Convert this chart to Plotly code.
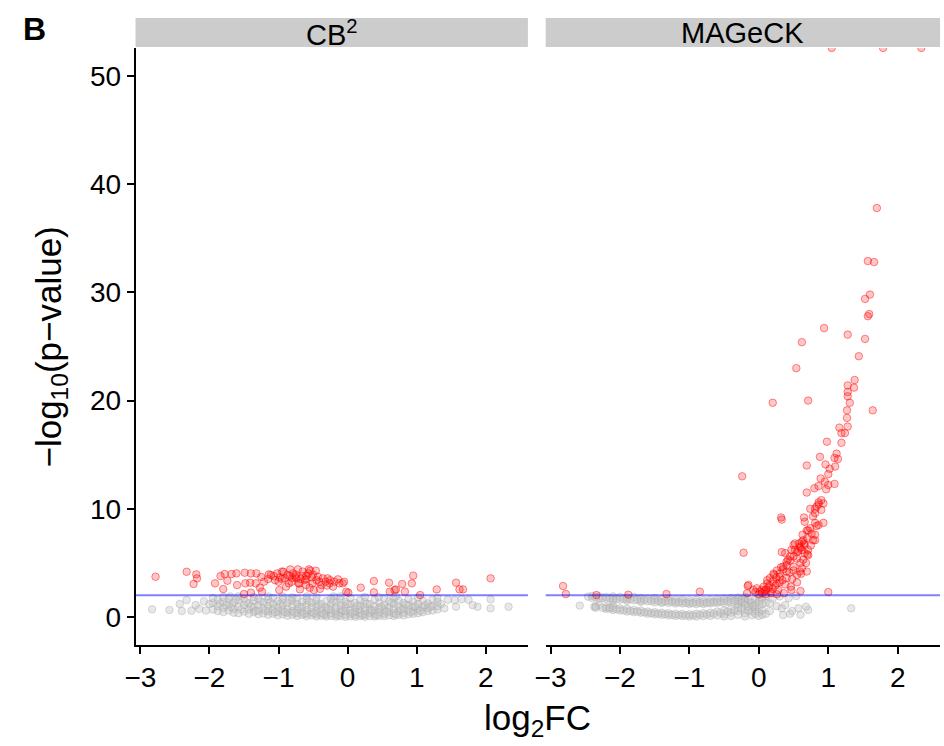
import plotly.graph_objects as go

# ---------------- data ----------------
panels = ["CB<sup>2</sup>", "MAGeCK"]
x_ticks = [-3, -2, -1, 0, 1, 2]
x_tick_labels = ["\u22123", "\u22122", "\u22121", "0", "1", "2"]
y_ticks = [0, 10, 20, 30, 40, 50]
threshold = 2.0

# CB2 significant (red) points: (log2FC, -log10 p)
cb2_sig = [
    (-2.78, 3.72), (-2.33, 4.18), (-2.19, 3.94), (-2.18, 3.57), (-2.23, 3.05), (-1.92, 3.11),
    (-1.84, 3.78), (-1.78, 3.97), (-1.74, 3.35), (-1.80, 2.58), (-1.68, 3.97), (-1.61, 4.03),
    (-1.60, 2.95), (-1.49, 4.09), (-1.48, 3.11), (-1.40, 4.03), (-1.32, 4.03), (-1.41, 3.17),
    (-1.50, 2.12), (-1.40, 2.25), (-1.33, 3.11), (-1.27, 2.71), (-1.21, 3.26), (-1.24, 2.34),
    (-1.14, 3.94), (-1.11, 3.88), (-1.07, 3.78), (-1.02, 4.03), (-0.98, 3.66), (-1.00, 3.26),
    (-0.99, 2.49), (-0.93, 4.18), (-0.91, 3.57), (-0.89, 2.80), (-0.83, 4.40), (-0.84, 3.78),
    (-0.81, 3.26), (-0.79, 4.03), (-0.76, 3.72), (-0.74, 3.57), (-0.72, 4.40), (-0.71, 3.11),
    (-0.69, 2.55), (-0.65, 3.78), (-0.62, 3.42), (-0.60, 2.95), (-0.57, 4.03), (-0.56, 4.40),
    (-0.54, 4.28), (-0.52, 3.66), (-0.51, 3.11), (-0.49, 2.49), (-0.46, 4.28), (-0.43, 3.72),
    (-0.41, 3.26), (-0.38, 2.95), (-0.36, 3.57), (-0.32, 3.26), (-0.29, 3.57), (-0.26, 3.11),
    (-0.21, 2.80), (-0.19, 3.26), (-0.14, 3.48), (-0.12, 3.11), (-0.07, 3.11), (-0.05, 3.26),
    (-0.02, 2.34), (0.01, 2.25), (0.19, 2.71), (0.38, 3.32), (0.38, 2.28), (0.60, 3.17),
    (0.61, 2.34), (0.68, 2.49), (0.70, 2.55), (0.79, 3.05), (0.83, 2.34), (0.93, 3.11),
    (0.95, 3.82), (1.05, 2.03), (1.29, 2.55), (1.57, 3.17), (1.62, 2.55), (1.67, 2.55),
    (2.07, 3.57),
    (-0.87, 3.90), (-0.80, 3.60), (-0.75, 3.90), (-0.68, 3.50), (-0.60, 3.80), (-0.65, 4.20),
    (-0.95, 3.50), (-1.05, 3.40), (-0.50, 3.90), (-0.45, 3.40), (-0.30, 2.90), (-0.25, 3.40),
    (-0.70, 3.10), (-0.85, 3.10), (-1.15, 3.50), (-1.25, 3.70), (-0.55, 2.70), (-0.40, 2.60),
    (-0.95, 4.20), (-0.60, 3.50),
]

# CB2 non-significant (grey) points
cb2_ns = [
    (-2.83, 0.71), (-2.58, 0.65), (-2.43, 1.20), (-2.40, 0.55), (-2.33, 1.57), (-2.26, 0.58),
    (-2.20, 1.10), (-2.15, 0.75), (-2.08, 1.45), (-2.05, 0.60), (2.33, 0.95), (2.07, 0.80),
    (2.07, 1.63), (1.88, 0.95), (1.81, 1.10), (1.57, 0.95), (1.55, 1.57), (1.45, 1.60),
    (1.40, 0.80), (1.35, 1.20), (1.65, 1.65), (1.75, 1.60), (1.30, 1.75),
    (-1.95, 0.70), (-1.95, 1.30), (-1.95, 1.75),
    (-1.88, 0.55), (-1.88, 1.00), (-1.88, 1.60),
    (-1.80, 0.45), (-1.80, 0.85), (-1.80, 1.40), (-1.80, 1.85),
    (-1.72, 0.60), (-1.72, 1.15), (-1.72, 1.70),
    (-1.65, 0.40), (-1.65, 0.75), (-1.65, 1.30),
    (-1.58, 0.35), (-1.58, 0.95), (-1.58, 1.55), (-1.58, 1.90),
    (-1.50, 0.50), (-1.50, 1.10), (-1.50, 1.70),
    (-1.43, 0.30), (-1.43, 0.70), (-1.43, 1.25),
    (-1.36, 0.45), (-1.36, 0.90), (-1.36, 1.50), (-1.36, 1.85),
    (-1.29, 0.25), (-1.29, 0.60), (-1.29, 1.10), (-1.29, 1.65),
    (-1.22, 0.35), (-1.22, 0.80), (-1.22, 1.35),
    (-1.15, 0.20), (-1.15, 0.55), (-1.15, 1.00), (-1.15, 1.60), (-1.15, 1.90),
    (-1.08, 0.30), (-1.08, 0.70), (-1.08, 1.20), (-1.08, 1.75),
    (-1.01, 0.15), (-1.01, 0.50), (-1.01, 0.90), (-1.01, 1.45),
    (-0.94, 0.25), (-0.94, 0.65), (-0.94, 1.10), (-0.94, 1.60), (-0.94, 1.90),
    (-0.87, 0.12), (-0.87, 0.40), (-0.87, 0.80), (-0.87, 1.30),
    (-0.80, 0.20), (-0.80, 0.55), (-0.80, 1.00), (-0.80, 1.50), (-0.80, 1.80),
    (-0.73, 0.10), (-0.73, 0.35), (-0.73, 0.75), (-0.73, 1.20), (-0.73, 1.70),
    (-0.66, 0.18), (-0.66, 0.50), (-0.66, 0.95), (-0.66, 1.40),
    (-0.59, 0.08), (-0.59, 0.30), (-0.59, 0.65), (-0.59, 1.10), (-0.59, 1.60), (-0.59, 1.90),
    (-0.52, 0.15), (-0.52, 0.45), (-0.52, 0.85), (-0.52, 1.30),
    (-0.45, 0.05), (-0.45, 0.25), (-0.45, 0.60), (-0.45, 1.00), (-0.45, 1.50), (-0.45, 1.80),
    (-0.38, 0.12), (-0.38, 0.40), (-0.38, 0.80), (-0.38, 1.20),
    (-0.31, 0.04), (-0.31, 0.20), (-0.31, 0.55), (-0.31, 0.95), (-0.31, 1.45),
    (-0.24, 0.10), (-0.24, 0.35), (-0.24, 0.70), (-0.24, 1.15), (-0.24, 1.70),
    (-0.17, 0.03), (-0.17, 0.25), (-0.17, 0.50), (-0.17, 0.90), (-0.17, 1.35),
    (-0.10, 0.08), (-0.10, 0.40), (-0.10, 0.75), (-0.10, 1.10), (-0.10, 1.60), (-0.10, 1.90),
    (-0.03, 0.02), (-0.03, 0.20), (-0.03, 0.55), (-0.03, 0.95), (-0.03, 1.40),
    (0.04, 0.06), (0.04, 0.30), (0.04, 0.65), (0.04, 1.20), (0.04, 1.75),
    (0.11, 0.02), (0.11, 0.18), (0.11, 0.50), (0.11, 0.85), (0.11, 1.30),
    (0.18, 0.08), (0.18, 0.35), (0.18, 0.70), (0.18, 1.05), (0.18, 1.55),
    (0.25, 0.03), (0.25, 0.22), (0.25, 0.55), (0.25, 0.90), (0.25, 1.40), (0.25, 1.85),
    (0.32, 0.10), (0.32, 0.40), (0.32, 0.75), (0.32, 1.20),
    (0.39, 0.05), (0.39, 0.28), (0.39, 0.60), (0.39, 1.00), (0.39, 1.60),
    (0.46, 0.12), (0.46, 0.45), (0.46, 0.85), (0.46, 1.30),
    (0.53, 0.08), (0.53, 0.30), (0.53, 0.70), (0.53, 1.10), (0.53, 1.75),
    (0.60, 0.15), (0.60, 0.50), (0.60, 0.90), (0.60, 1.45),
    (0.67, 0.10), (0.67, 0.35), (0.67, 0.75), (0.67, 1.20), (0.67, 1.70),
    (0.74, 0.20), (0.74, 0.55), (0.74, 1.00), (0.74, 1.50),
    (0.81, 0.15), (0.81, 0.40), (0.81, 0.80), (0.81, 1.30),
    (0.88, 0.25), (0.88, 0.65), (0.88, 1.10), (0.88, 1.65),
    (0.95, 0.30), (0.95, 0.55), (0.95, 0.95), (0.95, 1.40),
    (1.02, 0.35), (1.02, 0.75), (1.02, 1.20), (1.02, 1.80),
    (1.09, 0.45), (1.09, 0.90), (1.09, 1.50),
    (1.16, 0.55), (1.16, 0.80), (1.16, 1.25),
    (1.23, 0.60), (1.23, 1.05), (1.23, 1.60),
    (1.30, 0.70), (1.30, 1.00), (1.30, 1.40),
    (-1.76, 1.10), (-1.69, 0.90), (-1.62, 1.60), (-1.54, 0.70), (-1.47, 1.40), (-1.40, 1.00),
    (-1.33, 0.55), (-1.26, 1.45), (-1.19, 0.60), (-1.12, 1.35), (-1.05, 0.45), (-0.98, 1.20),
    (-0.91, 0.45), (-0.84, 1.60), (-0.77, 0.40), (-0.70, 0.95), (-0.63, 0.30), (-0.56, 1.45),
    (-0.49, 0.35), (-0.42, 1.10), (-0.35, 0.25), (-0.28, 0.75), (-0.21, 1.50), (-0.14, 0.15),
    (-0.07, 0.60), (0.00, 1.20), (0.07, 0.40), (0.14, 1.05), (0.21, 0.20), (0.28, 1.20),
    (0.35, 0.55), (0.42, 0.15), (0.49, 0.95), (0.56, 0.50), (0.63, 1.30), (0.70, 0.25),
    (0.77, 0.70), (0.84, 1.15), (0.91, 0.45), (0.98, 1.00), (1.05, 0.55), (1.12, 1.10),
    (1.19, 0.95), (-2.00, 1.20), (-1.85, 1.25), (-1.70, 1.90), (-0.20, 1.90), (0.45, 1.85),
    (0.70, 1.90),
]

# MAGeCK significant (red) points
mageck_sig = [
    (-2.82, 2.86), (-2.78, 2.12), (-2.34, 2.03), (-1.88, 2.06), (-1.33, 2.12), (-0.85, 2.34),
    (-0.16, 2.86), (-0.22, 5.94), (-0.24, 13.0), (1.00, 2.30),
    (1.05, 52.6), (1.79, 52.6), (2.34, 52.6),
    (1.70, 37.8), (1.57, 32.9), (1.66, 32.8), (1.60, 29.8), (1.53, 29.4), (1.59, 28.0),
    (1.57, 27.8), (0.94, 26.7), (1.28, 26.1), (1.53, 25.7), (0.62, 25.4), (1.44, 24.1),
    (0.54, 23.0), (1.38, 21.9), (1.28, 21.4), (1.37, 21.2), (1.28, 20.8), (1.28, 20.4),
    (1.31, 19.8), (0.20, 19.8), (0.71, 20.0), (1.64, 19.1), (1.27, 19.1), (1.27, 18.4),
    (1.28, 17.6), (1.16, 17.5), (1.19, 17.0), (1.24, 17.0), (1.19, 16.1), (0.98, 16.2),
    (0.88, 14.8), (1.12, 15.1), (1.09, 14.7), (1.14, 14.6), (0.69, 14.0), (0.96, 14.1),
    (1.10, 13.9), (1.02, 13.7), (1.00, 13.2), (0.89, 12.8), (0.95, 12.5), (1.00, 12.2),
    (1.09, 12.3), (0.97, 11.8), (0.69, 11.5), (0.80, 11.9), (0.86, 12.1), (0.90, 10.8),
    (0.86, 10.6), (0.83, 10.2), (0.74, 10.0), (0.90, 9.9), (0.81, 9.6), (0.78, 9.3),
    (0.32, 9.2), (0.65, 9.2), (0.93, 8.7), (0.81, 8.7), (0.83, 8.4), (0.71, 8.0),
    (0.81, 7.6), (0.81, 7.1), (0.64, 7.1), (0.52, 6.8), (0.59, 6.5), (0.47, 6.2),
    (0.62, 6.2), (0.38, 5.9), (0.71, 5.7), (0.33, 6.0), (0.93, 10.5), (0.86, 10.4),
    (0.81, 10.0), (0.86, 8.5), (0.74, 8.2), (0.66, 8.8), (0.33, 9.0),
    (0.69, 8.0), (0.63, 7.6), (0.76, 7.7), (0.78, 7.1), (0.62, 6.96), (0.50, 6.65),
    (0.66, 6.65), (0.71, 6.2), (0.57, 6.1), (0.45, 5.6), (0.55, 5.4), (0.40, 5.1),
    (0.64, 5.3), (0.50, 4.65), (0.35, 4.65), (0.26, 4.3), (0.21, 4.0), (0.40, 4.2),
    (0.30, 3.7), (0.16, 3.6), (0.12, 3.1), (0.26, 3.1), (0.07, 2.8), (-0.03, 2.65),
    (-0.08, 2.5), (0.02, 2.35), (0.16, 2.35), (-0.15, 2.96), (-0.17, 2.2), (0.47, 2.5),
    (0.59, 4.2), (0.69, 4.2), (0.66, 5.9), (0.61, 4.0),
    (0.05, 2.2), (0.10, 2.5), (0.15, 2.9), (0.20, 3.3), (0.25, 3.6), (0.30, 4.0),
    (0.35, 4.4), (0.40, 4.8), (0.45, 5.2), (0.50, 5.6), (0.55, 6.0), (0.60, 6.4),
    (0.65, 6.8), (0.70, 7.3), (0.10, 2.1), (0.20, 2.6), (0.30, 3.2), (0.40, 3.6),
    (0.50, 4.3), (0.60, 5.0), (0.70, 5.8), (0.75, 6.6), (0.12, 3.4), (0.22, 3.9),
    (0.32, 4.6), (0.42, 5.3), (0.52, 6.2), (0.58, 6.8), (0.00, 2.1), (-0.05, 2.3),
    (0.08, 2.4), (0.18, 2.2), (0.28, 2.5), (0.38, 3.0), (0.48, 3.5), (0.55, 3.9),
    (0.62, 4.5), (0.68, 5.0), (0.44, 4.1), (0.34, 3.4), (0.24, 2.9), (0.14, 2.7),
    (0.04, 2.5), (0.36, 2.2), (0.26, 2.1), (0.46, 2.8), (0.55, 3.2), (0.60, 2.4),
]

# MAGeCK non-significant (grey) points
mageck_ns = [
    (-2.58, 1.05), (-2.46, 1.88), (-2.37, 0.95), (-2.30, 1.10), (-2.20, 1.85), (-2.15, 0.90),
    (-2.10, 1.05),
    (-2.40, 1.95), (-2.40, 1.75), (-2.30, 1.90), (-2.30, 1.70), (-2.20, 1.65),
    (-2.10, 1.90), (-2.10, 1.70), (-2.10, 1.55), (-2.00, 1.85), (-2.00, 1.60),
    (-1.90, 1.80), (-1.90, 1.62), (-1.90, 1.50), (-1.80, 1.85), (-1.80, 1.55),
    (-1.70, 1.75), (-1.70, 1.50), (-1.70, 1.40), (-1.60, 1.70), (-1.60, 1.45),
    (-1.50, 1.75), (-1.50, 1.55), (-1.50, 1.35), (-1.40, 1.65), (-1.40, 1.40), (-1.40, 1.30),
    (-1.30, 1.70), (-1.30, 1.50), (-1.30, 1.30), (-1.20, 1.60), (-1.20, 1.40), (-1.20, 1.25),
    (-1.10, 1.65), (-1.10, 1.45), (-1.10, 1.25), (-1.00, 1.55), (-1.00, 1.35), (-1.00, 1.20),
    (-0.90, 1.60), (-0.90, 1.40), (-0.90, 1.20), (-0.80, 1.55), (-0.80, 1.35), (-0.80, 1.20),
    (-0.70, 1.60), (-0.70, 1.40), (-0.70, 1.25), (-0.60, 1.65), (-0.60, 1.45), (-0.60, 1.30),
    (-0.50, 1.70), (-0.50, 1.50), (-0.50, 1.30), (-0.40, 1.75), (-0.40, 1.55), (-0.40, 1.35),
    (-0.30, 1.80), (-0.30, 1.60), (-0.30, 1.40), (-0.30, 1.20), (-0.20, 1.85), (-0.20, 1.65),
    (-0.20, 1.45),
    (-2.35, 1.82), (-2.25, 1.78), (-2.15, 1.72), (-2.05, 1.68), (-1.95, 1.70), (-1.85, 1.65),
    (-1.75, 1.62), (-1.65, 1.58), (-1.55, 1.50), (-1.45, 1.50), (-1.35, 1.45), (-1.25, 1.40),
    (-1.15, 1.35), (-1.05, 1.30), (-0.95, 1.28), (-0.85, 1.30), (-0.75, 1.30), (-0.65, 1.35),
    (-0.55, 1.40), (-0.45, 1.45), (-0.35, 1.50), (-0.25, 1.55), (-0.15, 1.60), (-0.12, 1.35),
    (-0.25, 1.30),
    (-2.35, 1.00), (-2.35, 0.85), (-2.20, 0.90), (-2.20, 0.75), (-2.10, 0.85), (-2.10, 0.65),
    (-2.00, 0.80), (-2.00, 0.60), (-1.90, 0.75), (-1.90, 0.50), (-1.80, 0.65), (-1.80, 0.45),
    (-1.70, 0.60), (-1.70, 0.40), (-1.60, 0.50), (-1.60, 0.30), (-1.50, 0.45), (-1.50, 0.25),
    (-1.40, 0.40), (-1.40, 0.20), (-1.30, 0.35), (-1.30, 0.15), (-1.20, 0.30), (-1.20, 0.10),
    (-1.10, 0.28), (-1.10, 0.08), (-1.00, 0.25), (-1.00, 0.05), (-0.90, 0.30), (-0.90, 0.05),
    (-0.80, 0.35), (-0.80, 0.08), (-0.70, 0.40), (-0.70, 0.10), (-0.60, 0.50), (-0.60, 0.15),
    (-0.50, 0.60), (-0.50, 0.25), (-0.50, 0.05), (-0.40, 0.75), (-0.40, 0.40), (-0.40, 0.10),
    (-0.30, 0.90), (-0.30, 0.55), (-0.30, 0.20), (-0.20, 1.10), (-0.20, 0.70), (-0.20, 0.35),
    (-0.20, 0.05), (-0.10, 1.30), (-0.10, 0.90), (-0.10, 0.50), (-0.10, 0.15),
    (-0.05, 1.60), (-0.05, 1.10), (-0.05, 0.70), (-0.05, 0.30), (0.00, 1.80), (0.00, 1.40),
    (0.00, 0.90), (0.00, 0.45), (0.00, 0.10), (0.05, 1.65), (0.05, 1.20), (0.05, 0.60),
    (0.05, 0.20), (0.10, 1.90), (0.10, 1.30), (0.10, 0.30), (0.16, 1.26), (0.16, 0.55),
    (-2.25, 0.85), (-2.15, 0.78), (-2.05, 0.72), (-1.95, 0.62), (-1.85, 0.55), (-1.75, 0.50),
    (-1.65, 0.42), (-1.55, 0.35), (-1.45, 0.30), (-1.35, 0.25), (-1.25, 0.20), (-1.15, 0.18),
    (-1.05, 0.15), (-0.95, 0.15), (-0.85, 0.20), (-0.75, 0.22), (-0.65, 0.30), (-0.55, 0.38),
    (-0.45, 0.50), (-0.35, 0.60), (-0.25, 0.80), (-0.15, 0.95), (-0.15, 0.60), (-0.08, 1.05),
    (0.26, 1.00), (0.33, 0.80), (0.35, 0.18), (0.38, 1.10), (0.45, 0.30), (0.54, 1.94),
    (0.57, 0.80), (0.60, 0.20), (0.71, 0.65), (0.68, 0.95), (1.33, 0.80), (0.20, 1.70),
    (0.30, 1.90), (0.43, 1.75), (0.48, 0.55),
]

# ---------------- figure ----------------
W, H = 944, 746
panel_px = [(126, 523), (541, 940)]
top_px, bottom_px = 48, 645
x_range = [-3.07, 2.61]
y_range = [-2.59, 52.59]

grey_marker = dict(size=7.5, color="rgba(195,195,195,0.38)",
                   line=dict(color="rgba(170,170,170,0.45)", width=1))
red_marker = dict(size=7.5, color="rgba(255,0,0,0.22)",
                  line=dict(color="rgba(255,0,0,0.45)", width=1))

fig = go.Figure()
datasets = [(cb2_ns, cb2_sig), (mageck_ns, mageck_sig)]
for i, (ns, sig) in enumerate(datasets):
    xa = "x" if i == 0 else "x2"
    ya = "y" if i == 0 else "y2"
    fig.add_trace(go.Scatter(x=[p[0] for p in ns], y=[p[1] for p in ns], mode="markers",
                             marker=grey_marker, xaxis=xa, yaxis=ya, hoverinfo="skip"))
    fig.add_trace(go.Scatter(x=[p[0] for p in sig], y=[p[1] for p in sig], mode="markers",
                             marker=red_marker, xaxis=xa, yaxis=ya, hoverinfo="skip"))

font_family = "Liberation Sans, Arial, Helvetica, sans-serif"
ydom = [1 - bottom_px / H, 1 - top_px / H]
tick_font = dict(size=28, color="black", family=font_family)

def xaxis_cfg(i):
    l, r = panel_px[i]
    return dict(domain=[l / W, r / W], range=x_range, showgrid=False, zeroline=False,
                showline=True, linecolor="black", linewidth=1.5,
                ticks="outside", ticklen=7, tickwidth=1.5, tickcolor="black",
                tickvals=x_ticks, ticktext=x_tick_labels, tickfont=tick_font,
                anchor="y" if i == 0 else "y2")

fig.update_layout(
    width=W, height=H, margin=dict(l=0, r=0, t=0, b=0),
    plot_bgcolor="white", paper_bgcolor="white", showlegend=False,
    font=dict(family=font_family, color="black"),
    xaxis=xaxis_cfg(0),
    xaxis2=xaxis_cfg(1),
    yaxis=dict(domain=ydom, range=y_range, showgrid=False, zeroline=False,
               showline=True, linecolor="black", linewidth=1.5,
               ticks="outside", ticklen=7, tickwidth=1.5, tickcolor="black",
               tickvals=y_ticks, tickfont=tick_font, anchor="x"),
    yaxis2=dict(domain=ydom, range=y_range, showgrid=False, zeroline=False,
                showline=False, showticklabels=False, ticks="", anchor="x2", matches="y"),
)

shapes = []
annotations = []
for i, name in enumerate(panels):
    l, r = panel_px[i]
    shapes.append(dict(type="rect", xref="paper", yref="paper", x0=l / W, x1=r / W,
                       y0=1 - 47 / H, y1=1 - 18 / H, fillcolor="#CCCCCC", line=dict(width=0),
                       layer="above"))
    annotations.append(dict(text=name, xref="paper", yref="paper", x=(l + r) / 2 / W,
                            y=1 - 33 / H, showarrow=False, xanchor="center", yanchor="middle",
                            font=dict(size=29, color="black", family=font_family)))
    xr = "x domain" if i == 0 else "x2 domain"
    yr = "y" if i == 0 else "y2"
    shapes.append(dict(type="line", xref=xr, yref=yr, x0=0, x1=1, y0=threshold, y1=threshold,
                       line=dict(color="rgba(0,0,255,0.5)", width=2), layer="above"))

annotations.append(dict(text="<b>B</b>", xref="paper", yref="paper", x=10 / W, y=1 - 29 / H,
                        showarrow=False, xanchor="left", yanchor="middle",
                        font=dict(size=32, color="black", family=font_family)))
annotations.append(dict(text="log<sub>2</sub>FC", xref="paper", yref="paper",
                        x=533 / W, y=1 - 720 / H, showarrow=False, xanchor="center",
                        yanchor="middle", font=dict(size=35, color="black", family=font_family)))
annotations.append(dict(text="\u2212log<sub>10</sub>(p\u2212value)", xref="paper", yref="paper",
                        x=40 / W, y=1 - 347 / H, showarrow=False, xanchor="center",
                        yanchor="middle", textangle=-90,
                        font=dict(size=35, color="black", family=font_family)))

fig.update_layout(shapes=shapes, annotations=annotations)
fig.write_html("out.html")
